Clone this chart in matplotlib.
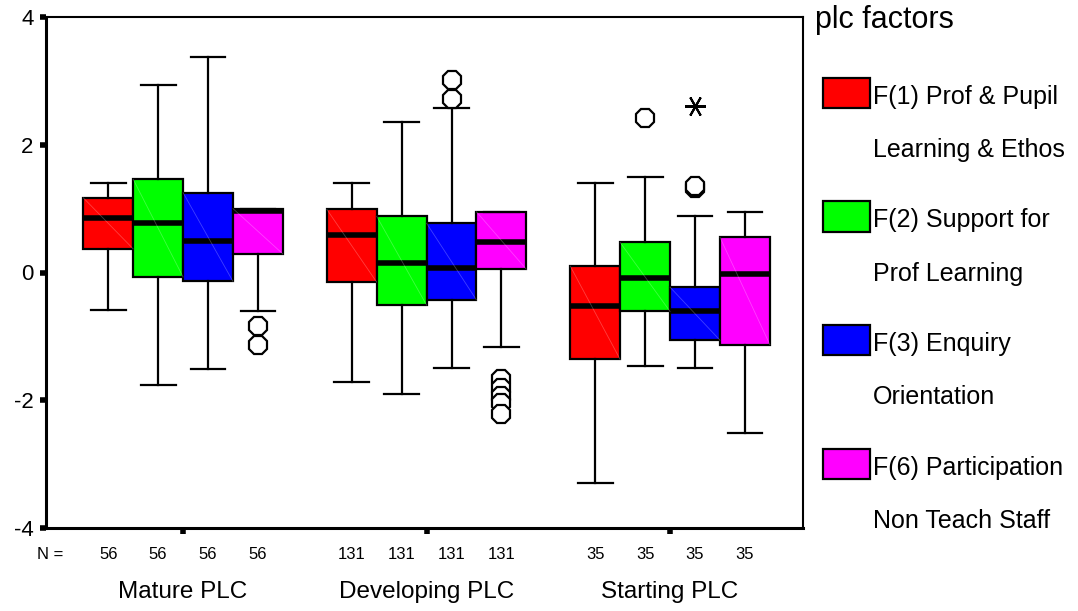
import numpy as np
import matplotlib.pyplot as plt
from matplotlib.patches import Rectangle
from matplotlib.transforms import blended_transform_factory

plt.rcParams['font.family'] = ['Liberation Sans', 'DejaVu Sans']

groups = ['Mature PLC', 'Developing PLC', 'Starting PLC']
factors = ['F(1) Prof & Pupil\nLearning & Ethos',
           'F(2) Support for\nProf Learning',
           'F(3) Enquiry\nOrientation',
           'F(6) Participation\nNon Teach Staff']
colors = ['#ff0000', '#00ff00', '#0000ff', '#ff00ff']
counts = [56, 131, 35]

# box stats per group, one entry per factor (F1, F2, F3, F6)
whislo = [[-0.58, -1.76, -1.51, -0.61],
          [-1.72, -1.90, -1.50, -1.16],
          [-3.30, -1.46, -1.50, -2.52]]
q1 = [[0.37, -0.07, -0.14, 0.29],
      [-0.15, -0.51, -0.43, 0.05],
      [-1.36, -0.61, -1.06, -1.13]]
med = [[0.86, 0.77, 0.50, 0.97],
       [0.58, 0.15, 0.07, 0.47],
       [-0.52, -0.09, -0.60, -0.03]]
q3 = [[1.17, 1.46, 1.25, 1.00],
      [0.99, 0.88, 0.77, 0.95],
      [0.10, 0.47, -0.23, 0.55]]
whishi = [[1.40, 2.94, 3.38, 1.00],
          [1.40, 2.35, 2.58, 0.95],
          [1.40, 1.50, 0.88, 0.95]]
# outliers (circles) and extremes (stars)
outliers = [[[], [], [], [-0.84, -1.14]],
            [[], [], [2.72, 3.02], [-1.66, -1.81, -1.93, -2.05, -2.21]],
            [[], [2.42], [1.33, 1.35], []]]
extremes = [[[], [], [], []],
            [[], [], [], []],
            [[], [], [2.60], []]]

box_w = 0.205
offsets = (np.arange(4) - 1.5) * box_w

fig = plt.figure(figsize=(10.78, 6.11), dpi=100)
ax = fig.add_axes([46 / 1078, 83 / 611, 757 / 1078, 511 / 611])

for g in range(len(groups)):
    stats = []
    for f in range(4):
        stats.append(dict(med=med[g][f], q1=q1[g][f], q3=q3[g][f],
                          whislo=whislo[g][f], whishi=whishi[g][f],
                          fliers=[]))
    pos = g + offsets
    bp = ax.bxp(stats, positions=pos, widths=box_w, capwidths=0.143,
                patch_artist=True, showfliers=False,
                boxprops=dict(edgecolor='black', linewidth=1.6),
                medianprops=dict(color='black', linewidth=4, solid_capstyle='butt'),
                whiskerprops=dict(color='black', linewidth=1.6),
                capprops=dict(color='black', linewidth=1.6),
                manage_ticks=False)
    for f, patch in enumerate(bp['boxes']):
        patch.set_facecolor(colors[f])
        patch.set_zorder(2)
        # faint diagonal seen inside the SPSS boxes
        ax.plot([pos[f] - box_w / 2, pos[f] + box_w / 2], [q3[g][f], q1[g][f]],
                color='white', alpha=0.25, lw=0.6, zorder=2.5)
    for f in range(4):
        if outliers[g][f]:
            ax.plot([pos[f]] * len(outliers[g][f]), outliers[g][f], '8',
                    ms=14, mfc='white', mec='black', mew=1.6, zorder=4)
        if extremes[g][f]:
            ax.plot([pos[f]] * len(extremes[g][f]), extremes[g][f],
                    marker=(6, 2, 90), ls='none', ms=15, mec='black', mew=1.5, zorder=4)

ax.set_xlim(-0.563, 2.546)
ax.set_ylim(-4, 4)
ax.set_yticks([-4, -2, 0, 2, 4])
ax.set_yticklabels(['-4', '-2', '0', '2', '4'], fontsize=16)
ax.set_xticks(range(len(groups)))
ax.set_xticklabels([])
ax.tick_params(axis='y', length=4, width=4, direction='out', pad=5)
ax.tick_params(axis='x', length=4, width=4, direction='out')
ax.spines['left'].set_linewidth(2.2)
ax.spines['bottom'].set_linewidth(2.2)
ax.spines['top'].set_linewidth(1.5)
ax.spines['right'].set_linewidth(1.5)

tr = blended_transform_factory(ax.transData, ax.transAxes)
ax.text(0.006, -0.061, 'N =', transform=ax.transAxes, ha='center', va='baseline', fontsize=12)
for g in range(len(groups)):
    for f in range(4):
        ax.text(g + offsets[f], -0.061, str(counts[g]), transform=tr,
                ha='center', va='baseline', fontsize=12)
    ax.text(g, -0.137, groups[g], transform=tr, ha='center', va='baseline', fontsize=17.5)

# legend drawn by hand so the swatch sits beside the first text line
fig.text(815 / 1078, 1 - 28 / 611, 'plc factors', ha='left', va='baseline', fontsize=22)
for f in range(4):
    yc = 1 - (93 + 123.5 * f) / 611
    fig.patches.append(Rectangle((823 / 1078, yc - 15 / 611), 47 / 1078, 30 / 611,
                                 transform=fig.transFigure, facecolor=colors[f],
                                 edgecolor='black', linewidth=1.6))
    line1, line2 = factors[f].split('\n')
    fig.text(873 / 1078, 1 - (104 + 123.5 * f) / 611, line1, ha='left', va='baseline', fontsize=18)
    fig.text(873 / 1078, 1 - (157 + 123.5 * f) / 611, line2, ha='left', va='baseline', fontsize=18)

fig.savefig('out.png', dpi=100)
